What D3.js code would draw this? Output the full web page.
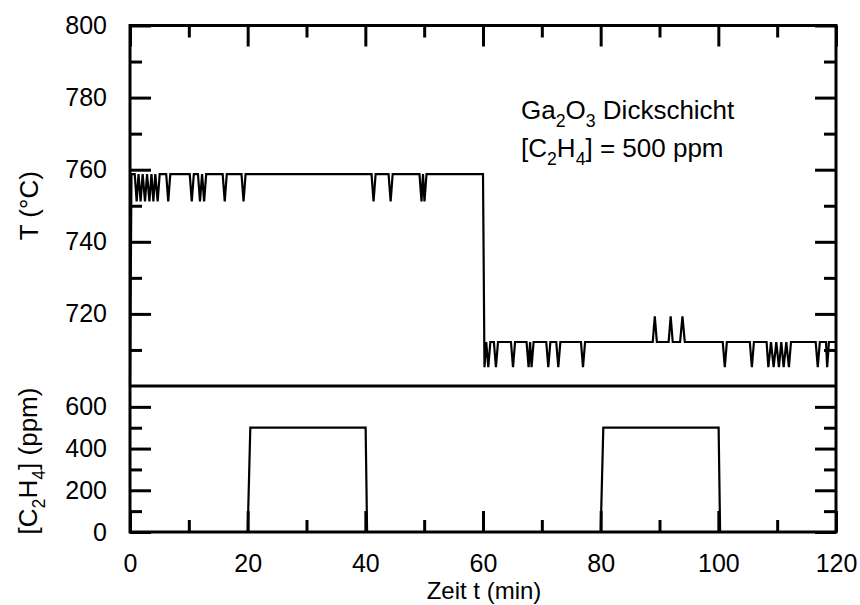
<!DOCTYPE html>
<html>
<head>
<meta charset="utf-8">
<script src="https://cdn.jsdelivr.net/npm/d3@7"></script>
<style>
  body { margin: 0; background: #fff; }
  svg { font-family: "Liberation Sans", Arial, Helvetica, sans-serif; }
</style>
</head>
<body>
<svg class="chart" width="860" height="605"></svg>
<script>
// temperature levels (sensor steps)
const H = 758.8, HL = 751.2, L = 712.2, LL = 705.2, LH = 719.3;

// [time (min), T (°C)]
const tempPoints = [
  [0, 700], [0.25, H],
  [0.8, H], [1.13, HL], [1.45, H], [1.8, HL], [2.15, H], [2.55, HL], [2.9, H],
  [3.3, HL], [3.65, H], [3.97, HL], [4.3, H], [4.7, HL], [5.05, H],
  [6.15, H], [6.5, HL], [6.85, H],
  [10.15, H], [10.5, HL], [10.85, H],
  [11.55, H], [11.9, HL], [12.25, H], [12.6, HL], [12.95, H],
  [15.75, H], [16.1, HL], [16.45, H],
  [18.95, H], [19.3, HL], [19.65, H],
  [41.05, H], [41.4, HL], [41.75, H],
  [43.95, H], [44.3, HL], [44.65, H],
  [49.2, H], [49.55, HL], [49.8, H], [50.05, HL], [50.4, H],
  [60.0, H], [60.25, LL], [60.55, L], [60.9, LL], [61.25, L],
  [61.85, L], [62.2, LL], [62.55, L],
  [64.75, L], [65.1, LL], [65.45, L],
  [67.4, L], [67.75, LL], [68.0, L], [68.25, LL], [68.6, L],
  [70.75, L], [71.1, LL], [71.45, L],
  [72.45, L], [72.8, LL], [73.15, L],
  [76.65, L], [77.0, LL], [77.35, L],
  [88.85, L], [89.2, LH], [89.55, L],
  [91.55, L], [91.9, LH], [92.25, L],
  [93.5, L], [93.9, LH], [94.3, L],
  [100.75, L], [101.1, LL], [101.45, L],
  [105.35, L], [105.7, LL], [106.05, L],
  [108.2, L], [108.5, LL], [108.95, L], [109.4, LL], [109.85, L],
  [110.3, LL], [110.7, L], [111.1, LL], [111.55, L], [112.0, LL], [112.35, L],
  [116.55, L], [116.9, LL], [117.25, L],
  [118.3, L], [118.5, LL], [118.8, L], [120, L]
];

// [time (min), C2H4 (ppm)]
const gasPoints = [
  [0, 0], [20, 0], [20.45, 500], [40.05, 500], [40.3, 0],
  [80, 0], [80.45, 500], [100.05, 500], [100.3, 0], [120, 0]
];

const xMajor = [0, 20, 40, 60, 80, 100, 120];
const xMinor = [10, 30, 50, 70, 90, 110];
const tMajor = [720, 740, 760, 780, 800];
const tMinor = [710, 730, 750, 770, 790];
const gasMajor = [0, 200, 400, 600];
const gasMinor = [100, 300, 500];

const plotLeft = 130, plotRight = 836, plotTop = 25.5, plotMid = 386, plotBottom = 532;
const majorLen = 21, minorLen = 12, fs = 25, labelFs = 26;

const svg = d3.select(".chart");

const x = d3.scaleLinear().domain([0, 120]).range([plotLeft, plotRight]);
const yT = d3.scaleLinear().domain([700, 800]).range([plotMid, plotTop]);
const yG = d3.scaleLinear().domain([0, 700]).range([plotBottom, plotMid]);

function styleAxis(g) {
  g.select(".domain").remove();
  g.attr("font-size", fs).attr("font-family", "Liberation Sans, Arial, sans-serif");
  g.selectAll(".tick line").attr("stroke", "#000").attr("stroke-width", 3);
  g.selectAll("text").attr("fill", "#000");
}

// ticks: top of upper panel
svg.append("g").attr("transform", `translate(0,${plotTop})`)
  .call(d3.axisTop(x).tickValues(xMajor).tickSize(-majorLen).tickFormat(""))
  .call(styleAxis);
svg.append("g").attr("transform", `translate(0,${plotTop})`)
  .call(d3.axisTop(x).tickValues(xMinor).tickSize(-minorLen).tickFormat(""))
  .call(styleAxis);

// ticks: bottom of lower panel (with labels)
svg.append("g").attr("transform", `translate(0,${plotBottom})`)
  .call(d3.axisBottom(x).tickValues(xMajor).tickSize(-majorLen).tickPadding(22))
  .call(styleAxis);
svg.append("g").attr("transform", `translate(0,${plotBottom})`)
  .call(d3.axisBottom(x).tickValues(xMinor).tickSize(-minorLen).tickFormat(""))
  .call(styleAxis);

// upper panel y ticks
svg.append("g").attr("transform", `translate(${plotLeft},0)`)
  .call(d3.axisLeft(yT).tickValues(tMajor).tickSize(-majorLen).tickPadding(23))
  .call(styleAxis);
svg.append("g").attr("transform", `translate(${plotLeft},0)`)
  .call(d3.axisLeft(yT).tickValues(tMinor).tickSize(-minorLen).tickFormat(""))
  .call(styleAxis);
svg.append("g").attr("transform", `translate(${plotRight},0)`)
  .call(d3.axisRight(yT).tickValues(tMajor).tickSize(-majorLen).tickFormat(""))
  .call(styleAxis);
svg.append("g").attr("transform", `translate(${plotRight},0)`)
  .call(d3.axisRight(yT).tickValues(tMinor).tickSize(-minorLen).tickFormat(""))
  .call(styleAxis);

// lower panel y ticks
svg.append("g").attr("transform", `translate(${plotLeft},0)`)
  .call(d3.axisLeft(yG).tickValues(gasMajor).tickSize(-majorLen).tickPadding(23))
  .call(styleAxis);
svg.append("g").attr("transform", `translate(${plotLeft},0)`)
  .call(d3.axisLeft(yG).tickValues(gasMinor).tickSize(-minorLen).tickFormat(""))
  .call(styleAxis);
svg.append("g").attr("transform", `translate(${plotRight},0)`)
  .call(d3.axisRight(yG).tickValues(gasMajor).tickSize(-majorLen).tickFormat(""))
  .call(styleAxis);
svg.append("g").attr("transform", `translate(${plotRight},0)`)
  .call(d3.axisRight(yG).tickValues(gasMinor).tickSize(-minorLen).tickFormat(""))
  .call(styleAxis);

// data lines
const lineT = d3.line().x((d) => x(d[0])).y((d) => yT(d[1]));
const lineG = d3.line().x((d) => x(d[0])).y((d) => yG(d[1]));

svg.append("path").datum(tempPoints)
  .attr("d", lineT).attr("fill", "none").attr("stroke", "#000")
  .attr("stroke-width", 2.2).attr("stroke-linejoin", "miter");

svg.append("path").datum(gasPoints)
  .attr("d", lineG).attr("fill", "none").attr("stroke", "#000")
  .attr("stroke-width", 2.2);

// frames
svg.append("rect")
  .attr("x", plotLeft).attr("y", plotTop)
  .attr("width", plotRight - plotLeft).attr("height", plotBottom - plotTop)
  .attr("fill", "none").attr("stroke", "#000").attr("stroke-width", 3);
svg.append("line")
  .attr("x1", plotLeft).attr("x2", plotRight).attr("y1", plotMid).attr("y2", plotMid)
  .attr("stroke", "#000").attr("stroke-width", 3);

// text with subscripts: parts are [text, isSubscript]
function richText(sel, size, parts) {
  const shift = Math.round(size * 0.3);
  let lowered = false;
  parts.forEach(([txt, sub]) => {
    const t = sel.append("tspan").text(txt);
    if (sub) {
      t.attr("font-size", size * 0.68).attr("dy", lowered ? 0 : shift);
      lowered = true;
    } else if (lowered) {
      t.attr("dy", -shift);
      lowered = false;
    }
  });
}

// axis labels
svg.append("text")
  .attr("transform", `translate(38,${(plotTop + plotMid) / 2}) rotate(-90)`)
  .attr("text-anchor", "middle").attr("font-size", labelFs)
  .text("T (°C)");

const gLabel = svg.append("text")
  .attr("transform", `translate(37,${(plotMid + plotBottom) / 2 + 2}) rotate(-90)`)
  .attr("text-anchor", "middle").attr("font-size", labelFs);
richText(gLabel, labelFs, [["[C", false], ["2", true], ["H", false], ["4", true], ["] (ppm)", false]]);

svg.append("text")
  .attr("x", 484).attr("y", 599)
  .attr("text-anchor", "middle").attr("font-size", 24)
  .text("Zeit t (min)");

// annotation
const annFs = 26;
const ann1 = svg.append("text").attr("x", 521).attr("y", 119).attr("font-size", annFs);
richText(ann1, annFs, [["Ga", false], ["2", true], ["O", false], ["3", true], [" Dickschicht", false]]);
const ann2 = svg.append("text").attr("x", 521).attr("y", 157).attr("font-size", annFs);
richText(ann2, annFs, [["[C", false], ["2", true], ["H", false], ["4", true], ["] = 500 ppm", false]]);
</script>
</body>
</html>
